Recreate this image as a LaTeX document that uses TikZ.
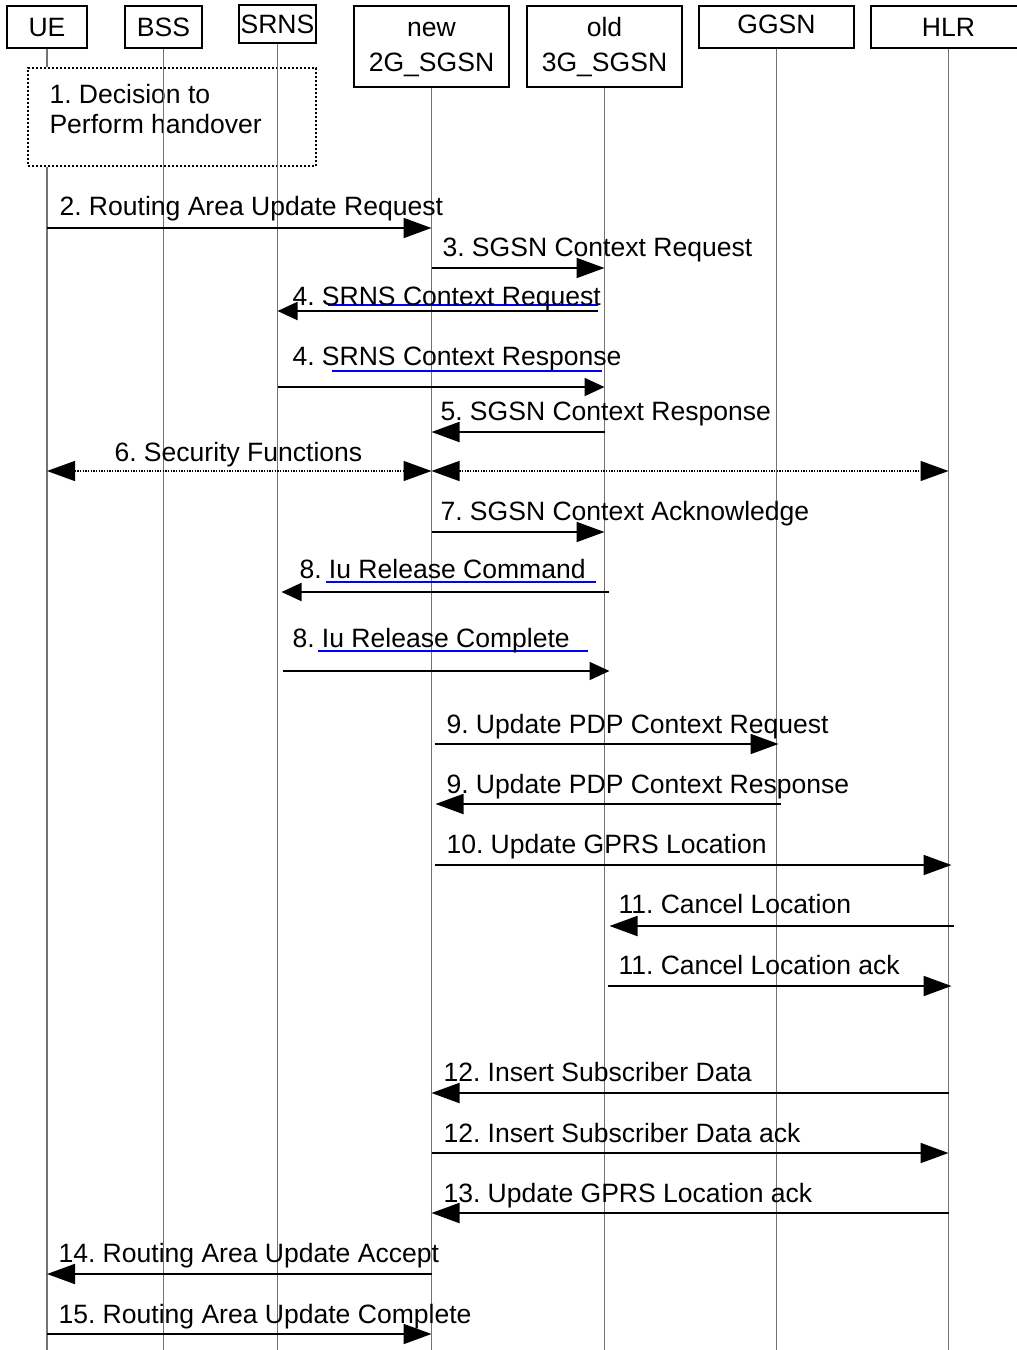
\documentclass[tikz,border=0pt]{standalone}
\usepackage{fontspec}
\setmainfont{Liberation Sans}
\frenchspacing
\usetikzlibrary{arrows.meta,calc}

\tikzset{every picture/.style={line width=0.75pt}}
\tikzset{
    entity/.style={draw=black, line width=1.1pt, inner sep=0pt, align=center, font=\fontsize{19.9}{26.25}\selectfont},
    lifeline/.style={draw=black!55, line width=0.9pt},
    msg/.style={line width=1.4pt, -{Triangle[length=21pt,width=15pt]}},
    srnsmsg/.style={line width=1.4pt, -{Triangle[length=15pt,width=13.5pt]}},
    secmsg/.style={line width=1pt, dash pattern=on 1pt off 1pt, {Triangle[length=21pt,width=15pt]}-{Triangle[length=21pt,width=15pt]}},
    msgtext/.style={anchor=base west, inner sep=0pt, font=\fontsize{19.9}{24}\selectfont},
    iulink/.style={draw=blue, line width=1.1pt}
}

\begin{document}
\begin{tikzpicture}[
            x=0.75pt,
            y=0.75pt,
            yscale=-1,
            xscale=1,
            every node/.style={text=black},
            line width=0.75pt
        ]
            \useasboundingbox (0,0) rectangle (1017,1350);
            \coordinate (bottom) at (0,1350);

            \node [entity, minimum width=60pt, minimum height=31.5pt] (ue) at (47,27) {UE};
            \node [entity, minimum width=57.75pt, minimum height=31.5pt] (bss) at (163.5,27) {BSS};
            \node [entity, minimum width=57.75pt, minimum height=28.5pt] (srns) at (277.5,24) {SRNS};
            \node [entity, minimum width=116.25pt, minimum height=60.75pt, text height=42pt] (nsgsn) at (431.5,46.5) {new\\2G\_SGSN};
            \node [entity, minimum width=116.25pt, minimum height=60.75pt, text height=42pt] (osgsn) at (604.5,46.5) {old\\3G\_SGSN};
            \node [entity, minimum width=116.25pt, minimum height=31.5pt, text depth=4.5pt] (ggsn) at (776.5,27) {GGSN};
            \node [entity, minimum width=116.25pt, minimum height=31.5pt] (hlr) at (948.5,27) {HLR};

            \node [draw=black, line width=1.5pt, dash pattern=on 1.5pt off 1.5pt, minimum width=216pt, minimum height=73.5pt, inner sep=0pt] (decide) at (172,117) {};
            \node [anchor=north west, inner sep=0pt, align=left, font=\fontsize{19.9}{22.5}\selectfont] (decidetext) at (49,84) {1. Decision to\\Perform handover};

            \draw [lifeline] (ue.south) -- (ue |- decide.north);
            \draw [lifeline] (ue |- decide.south) -- (ue |- bottom);
            \draw [lifeline] (bss.south) -- (bss |- bottom);
            \draw [lifeline] (srns.south) -- (srns |- bottom);
            \draw [lifeline] (nsgsn.south) -- (nsgsn |- bottom);
            \draw [lifeline] (osgsn.south) -- (osgsn |- bottom);
            \draw [lifeline] (ggsn.south) -- (ggsn |- bottom);
            \draw [lifeline] (hlr.south) -- (hlr |- bottom);

            \draw [msg] (ue |- 0,228) -- (nsgsn |- 0,228);
            \draw [msg] (nsgsn |- 0,268) -- (osgsn |- 0,268);
            \draw [srnsmsg] ($(osgsn |- 0,311)+(-7,0)$) -- (srns |- 0,311);
            \draw [srnsmsg] (srns |- 0,387) -- (osgsn |- 0,387);
            \draw [msg] (osgsn |- 0,432) -- (nsgsn |- 0,432);
            \draw [secmsg] (ue |- 0,471) -- (nsgsn |- 0,471);
            \draw [secmsg] (nsgsn |- 0,471) -- (hlr |- 0,471);
            \draw [msg] (nsgsn |- 0,532) -- (osgsn |- 0,532);
            \draw [srnsmsg] ($(osgsn |- 0,592)+(4,0)$) -- ($(srns |- 0,592)+(4,0)$);
            \draw [srnsmsg] ($(srns |- 0,671)+(5,0)$) -- ($(osgsn |- 0,671)+(5,0)$);
            \draw [msg] ($(nsgsn |- 0,744)+(3,0)$) -- ($(ggsn |- 0,744)+(2,0)$);
            \draw [msg] ($(ggsn |- 0,804)+(4,0)$) -- ($(nsgsn |- 0,804)+(4,0)$);
            \draw [msg] ($(nsgsn |- 0,865)+(3,0)$) -- ($(hlr |- 0,865)+(3,0)$);
            \draw [msg] ($(hlr |- 0,926)+(5,0)$) -- ($(osgsn |- 0,926)+(5,0)$);
            \draw [msg] ($(osgsn |- 0,986)+(3,0)$) -- ($(hlr |- 0,986)+(3,0)$);
            \draw [msg] (hlr |- 0,1093) -- (nsgsn |- 0,1093);
            \draw [msg] (nsgsn |- 0,1153) -- (hlr |- 0,1153);
            \draw [msg] (hlr |- 0,1213) -- (nsgsn |- 0,1213);
            \draw [msg] (nsgsn |- 0,1274) -- (ue |- 0,1274);
            \draw [msg] (ue |- 0,1334) -- (nsgsn |- 0,1334);

            \draw [iulink] (328,305) -- (598,305);
            \draw [iulink] (332,371) -- (602,371);
            \draw [iulink] (326,582) -- (596,582);
            \draw [iulink] (318,651) -- (588,651);

            \node [msgtext] (raureq) at (59,215) {2. Routing Area Update Request};
            \node [msgtext] (ctxreq) at (442,256) {3. SGSN Context Request};
            \node [msgtext] (srnsreq) at (292,305) {4. SRNS Context Request};
            \node [msgtext] (srnsresp) at (292,365) {4. SRNS Context Response};
            \node [msgtext] (ctxresp) at (440,420) {5. SGSN Context Response};
            \node [msgtext] (secfun) at (114,461) {6. Security Functions};
            \node [msgtext] (ctxack) at (440,520) {7. SGSN Context Acknowledge};
            \node [msgtext] (iucmd) at (299,578) {8. Iu Release Command};
            \node [msgtext] (iucmpl) at (292,647) {8. Iu Release Complete};
            \node [msgtext] (pdpreq) at (446,733) {9. Update PDP Context Request};
            \node [msgtext] (pdpresp) at (446,793) {9. Update PDP Context Response};
            \node [msgtext] (gprsloc) at (446,853) {10. Update GPRS Location};
            \node [msgtext] (cancloc) at (618,913) {11. Cancel Location};
            \node [msgtext] (cancack) at (618,974) {11. Cancel Location ack};
            \node [msgtext] (isd) at (443,1081) {12. Insert Subscriber Data};
            \node [msgtext] (isdack) at (443,1142) {12. Insert Subscriber Data ack};
            \node [msgtext] (gprsack) at (443,1202) {13. Update GPRS Location ack};
            \node [msgtext] (rauacc) at (58,1262) {14. Routing Area Update Accept};
            \node [msgtext] (raucmpl) at (58,1323) {15. Routing Area Update Complete};
        \end{tikzpicture}
\end{document}
